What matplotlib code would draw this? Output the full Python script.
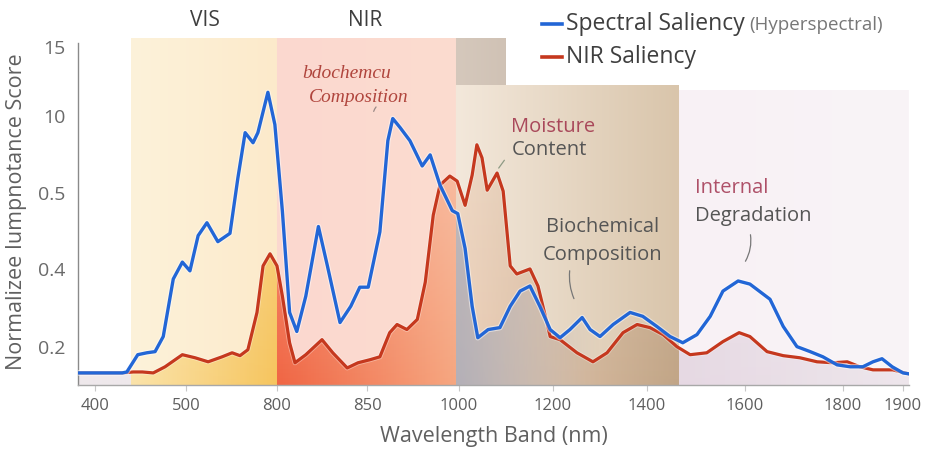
import numpy as np
import matplotlib
matplotlib.use('Agg')
import matplotlib.pyplot as plt
import matplotlib.patheffects as pe
from matplotlib.colors import to_rgb

plt.rcParams['font.family'] = ['Open Sans', 'DejaVu Sans']

# ---- data ----
x_ticks = [400, 500, 800, 850, 1000, 1200, 1400, 1600, 1800, 1900]
x_ticklabels = ['400', '500', '800', '850', '1000', '1200', '1400', '1600', '1800', '1900']
y_ticks = [0.2, 0.4, 0.5, 10, 15]
y_ticklabels = ['0.2', '0.4', '0.5', '10', '15']

blue_wl = [380, 430, 435, 447, 457, 466, 475, 486, 496, 513, 540, 569, 605, 645, 671, 695, 721, 737, 770, 793,
           803, 807, 811, 816, 823, 828, 835, 841, 846, 852, 871, 884, 892, 904, 920, 940, 953, 969, 989, 998,
           1013, 1028, 1040, 1062, 1087, 1109, 1130, 1151, 1172, 1194, 1215, 1236, 1262, 1279, 1300, 1328, 1364,
           1391, 1420, 1447, 1473, 1502, 1529, 1555, 1586, 1610, 1651, 1678, 1706, 1733, 1759, 1788, 1812, 1833,
           1850, 1865, 1882, 1900, 1910]
blue_val = [0.063, 0.063, 0.068, 0.158, 0.168, 0.174, 0.226, 0.374, 0.409, 0.395,
            0.444, 0.461, 0.436, 0.447, 2.35, 7.90, 6.67, 7.90, 11.69, 8.89,
            0.476, 0.288, 0.239, 0.330, 0.456, 0.404, 0.262, 0.304, 0.353, 0.353,
            0.449, 6.92, 9.63, 8.52, 6.92, 3.83, 5.19, 1.49, 0.477, 0.473,
            0.427, 0.304, 0.223, 0.244, 0.249, 0.304, 0.343, 0.356, 0.304, 0.244,
            0.223, 0.244, 0.275, 0.244, 0.226, 0.257, 0.288, 0.278, 0.252, 0.226,
            0.210, 0.231, 0.278, 0.343, 0.369, 0.361, 0.322, 0.252, 0.200, 0.174,
            0.147, 0.105, 0.095, 0.095, 0.121, 0.137, 0.095, 0.063, 0.058]

red_wl = [380, 430, 442, 452, 464, 477, 496, 530, 573, 619, 652, 678, 704, 734, 754, 777, 800, 803, 807, 810,
          816, 825, 831, 839, 845, 855, 871, 887, 899, 915, 932, 945, 958, 969, 985, 997, 1013, 1028, 1038,
          1049, 1060, 1081, 1094, 1109, 1123, 1151, 1168, 1187, 1194, 1215, 1251, 1285, 1315, 1349, 1379,
          1406, 1433, 1461, 1488, 1522, 1555, 1588, 1610, 1645, 1678, 1712, 1747, 1780, 1807, 1828, 1850,
          1883, 1903, 1910]
red_val = [0.063, 0.063, 0.068, 0.068, 0.063, 0.095, 0.158, 0.142, 0.121, 0.147,
           0.168, 0.153, 0.184, 0.288, 0.404, 0.420, 0.404, 0.330, 0.210, 0.116,
           0.158, 0.218, 0.168, 0.089, 0.116, 0.132, 0.147, 0.236, 0.257, 0.244,
           0.270, 0.366, 0.471, 1.49, 2.60, 1.98, 0.484, 2.72, 6.42, 4.82,
           0.87, 2.97, 0.75, 0.404, 0.387, 0.400, 0.356, 0.262, 0.226, 0.218,
           0.168, 0.121, 0.168, 0.236, 0.257, 0.249, 0.231, 0.200, 0.158, 0.168,
           0.213, 0.236, 0.226, 0.174, 0.153, 0.142, 0.121, 0.116, 0.121, 0.095,
           0.079, 0.079, 0.063, 0.058]

# ---- the axes are not linear: anchor points of the scales (pixels) ----
XW = [-1e4, 380, 400, 500, 800, 850, 1000, 1200, 1400, 1600, 1800, 1900, 1910, 1e5]
XP = [-1e4, 78, 95, 186, 277, 367, 459, 553, 647, 745, 843, 903, 909, 1e5]
YV = [-1e4, 0, 0.2, 0.4, 0.5, 10, 15, 1e4]
YP = [-1e4, 0, 38, 115, 190, 267, 335, 1e5]

def xf(v):
    return np.interp(v, XW, XP)
def xi(p):
    return np.interp(p, XP, XW)
def yf(v):
    return np.interp(v, YV, YP)
def yi(p):
    return np.interp(p, YP, YV)

W, H = 933, 453
fig = plt.figure(figsize=(W / 100, H / 100), dpi=100)
ax = fig.add_axes([78 / W, 68 / H, 831 / W, 347 / H])
ax.set_xscale('function', functions=(xf, xi))
ax.set_yscale('function', functions=(yf, yi))

def fx(px):
    return px / W
def fy(py):
    return 1 - py / H

# ---- background bands as an image in axes coords ----
IW, IH = 831, 347
col_wl = xi(78 + np.arange(IW) + 0.5)
row_h = IH - np.arange(IH) - 0.5

def paint(img, wl0, wl1, c0, c1, top, a_bot=1.0, a_top=1.0, fade=0.0):
    m = (col_wl >= wl0) & (col_wl < wl1)
    if not m.any():
        return
    p = xf(col_wl[m])
    t = (p - p.min()) / max(p.max() - p.min(), 1)
    rgb = (1 - t)[:, None] * np.array(to_rgb(c0)) + t[:, None] * np.array(to_rgb(c1))
    rows = row_h < top
    a = a_bot + (a_top - a_bot) * (row_h[rows] / IH)
    blk = np.zeros((rows.sum(), m.sum(), 4))
    blk[:, :, :3] = rgb[None, :, :]
    blk[:, :, 3] = a[:, None] * (1 - fade * t ** 1.5)[None, :]
    img[np.ix_(rows, m)] = blk

bg = np.zeros((IH, IW, 4))
paint(bg, 440, 800, '#FDF2DA', '#FCEACB', IH)
paint(bg, 800, 995, '#FCD8CF', '#FBDCD0', IH)
paint(bg, 995, 1100, '#D5C8BC', '#D0C2B5', IH)
paint(bg, 995, 1465, '#F3E8DB', '#D9C5AB', 300)
paint(bg, 1465, 1911, '#F8F1F5', '#F9F4F7', 295)
ax.imshow(bg, transform=ax.transAxes, extent=[0, 1, 0, 1], aspect='auto', zorder=0, interpolation='bilinear')

# fill under the red curve
rf = np.zeros((IH, IW, 4))
paint(rf, 380, 440, '#ECE6EA', '#ECE6EA', IH, 0.9, 0.4)
paint(rf, 440, 800, '#FBE3A8', '#F6C358', IH, 0.95, 0.45)
paint(rf, 800, 995, '#F05F3C', '#F6A47C', IH, 0.95, 0.35)
paint(rf, 995, 1465, '#ECCDB5', '#BFA283', IH, 0.9, 0.35)
paint(rf, 1465, 1911, '#E4D6E1', '#EDE5EB', IH, 0.9, 0.4)
red_poly = ax.fill_between(red_wl, red_val, 0, facecolor='none', edgecolor='none')
im_r = ax.imshow(rf, transform=ax.transAxes, extent=[0, 1, 0, 1], aspect='auto', zorder=1, interpolation='bilinear')
im_r.set_clip_path(red_poly.get_paths()[0], transform=ax.transData)

# gray fill under the blue curve after 1000 nm
bf = np.zeros((IH, IW, 4))
paint(bf, 995, 1300, '#AEADB8', '#C9BDB2', IH, 0.9, 0.6, fade=1.0)
blue_poly = ax.fill_between(blue_wl, blue_val, 0, facecolor='none', edgecolor='none')
im_b = ax.imshow(bf, transform=ax.transAxes, extent=[0, 1, 0, 1], aspect='auto', zorder=2, interpolation='bilinear')
im_b.set_clip_path(blue_poly.get_paths()[0], transform=ax.transData)

# ---- curves ----
ax.plot(red_wl, red_val, color='#C5381E', lw=2.3, zorder=4, solid_joinstyle='round',
        path_effects=[pe.Stroke(linewidth=3.6, foreground='white', alpha=0.35), pe.Normal()])
ax.plot(blue_wl, blue_val, color='#2266D6', lw=2.4, zorder=5, solid_joinstyle='round',
        path_effects=[pe.Stroke(linewidth=4.0, foreground='white', alpha=0.5), pe.Normal()])

ax.set_xlim(380, 1910)
ax.set_ylim(0, 15.88)

ax.set_xticks(x_ticks)
ax.set_xticklabels(x_ticklabels)
ax.set_yticks(y_ticks)
ax.set_yticklabels(y_ticklabels)
ax.minorticks_off()
ax.tick_params(axis='x', length=4, color='#C8C8C8', labelsize=12, labelcolor='#5E5E5E', pad=5)
ax.tick_params(axis='y', length=0, labelsize=14, labelcolor='#6A6A6A', pad=9)
for s in ['top', 'right']:
    ax.spines[s].set_visible(False)
ax.spines['left'].set_color('#8A8A8A')
ax.spines['bottom'].set_color('#A8A8A8')
ax.spines['left'].set_linewidth(1.0)
ax.spines['bottom'].set_linewidth(1.0)
ax.spines['left'].set_bounds(0, 15.4)

ax.set_xlabel('Wavelength Band (nm)', fontsize=15.5, color='#606060', labelpad=9)
ax.set_ylabel('Normalizee Iumpnotance Score', fontsize=15.5, color='#606060', labelpad=8)

# ---- region names and legend ----
fig.text(fx(205), fy(20), 'VIS', fontsize=15, color='#3E3E3E', ha='center', va='center')
fig.text(fx(365), fy(20), 'NIR', fontsize=15, color='#3E3E3E', ha='center', va='center')

fig.add_artist(plt.Line2D([fx(542), fx(562)], [fy(24), fy(24)], color='#2266D6', lw=2.6))
fig.add_artist(plt.Line2D([fx(542), fx(562)], [fy(57), fy(57)], color='#C5381E', lw=2.6))
t1 = fig.text(fx(566), fy(24), 'Spectral Saliency', fontsize=16.5, color='#3F3F3F', ha='left', va='center')
fig.text(fx(566), fy(57), 'NIR Saliency', fontsize=16.5, color='#3F3F3F', ha='left', va='center')
fig.canvas.draw()
t1_right = t1.get_window_extent().x1
fig.text((t1_right + 5) / W, fy(25), '(Hyperspectral)', fontsize=13.5, color='#777777',
         ha='left', va='center')

# ---- annotations ----
serif = ['Liberation Serif', 'DejaVu Serif']
fig.text(fx(347), fy(74), 'bdochemcu', fontsize=14, color='#B0453D', style='italic',
         family=serif, ha='center', va='center')
fig.text(fx(359), fy(97), 'Composition', fontsize=14, color='#B0453D', style='italic',
         family=serif, ha='center', va='center')
ax.annotate('', xy=(860, 10.1), xycoords='data', xytext=(fx(378), fy(105)), textcoords='figure fraction',
            arrowprops=dict(arrowstyle='-', color='#9A8A86', lw=0.9, connectionstyle='arc3,rad=0.2'))

fig.text(fx(553), fy(127), 'Moisture', fontsize=14.5, color='#A9485A', ha='center', va='center')
fig.text(fx(549), fy(150), 'Content', fontsize=14.5, color='#555555', ha='center', va='center')
ax.annotate('', xy=(1081, 3.3), xycoords='data', xytext=(fx(506), fy(158)), textcoords='figure fraction',
            arrowprops=dict(arrowstyle='-', color='#8E9A84', lw=0.9))

fig.text(fx(603), fy(227), 'Biochemical', fontsize=14.5, color='#555555', ha='center', va='center')
fig.text(fx(603), fy(255), 'Composition', fontsize=14.5, color='#555555', ha='center', va='center')
ax.annotate('', xy=(1247, 0.317), xycoords='data', xytext=(fx(570), fy(268)), textcoords='figure fraction',
            arrowprops=dict(arrowstyle='-', color='#777777', lw=0.9, connectionstyle='arc3,rad=0.15'))

fig.text(fx(695), fy(188), 'Internal', fontsize=14.5, color='#AE5068', ha='left', va='center')
fig.text(fx(695), fy(216), 'Degradation', fontsize=14.5, color='#555555', ha='left', va='center')
ax.annotate('', xy=(1598, 0.407), xycoords='data', xytext=(fx(750), fy(232)), textcoords='figure fraction',
            arrowprops=dict(arrowstyle='-', color='#777777', lw=0.9, connectionstyle='arc3,rad=-0.2'))

fig.savefig('out.png', dpi=100)
